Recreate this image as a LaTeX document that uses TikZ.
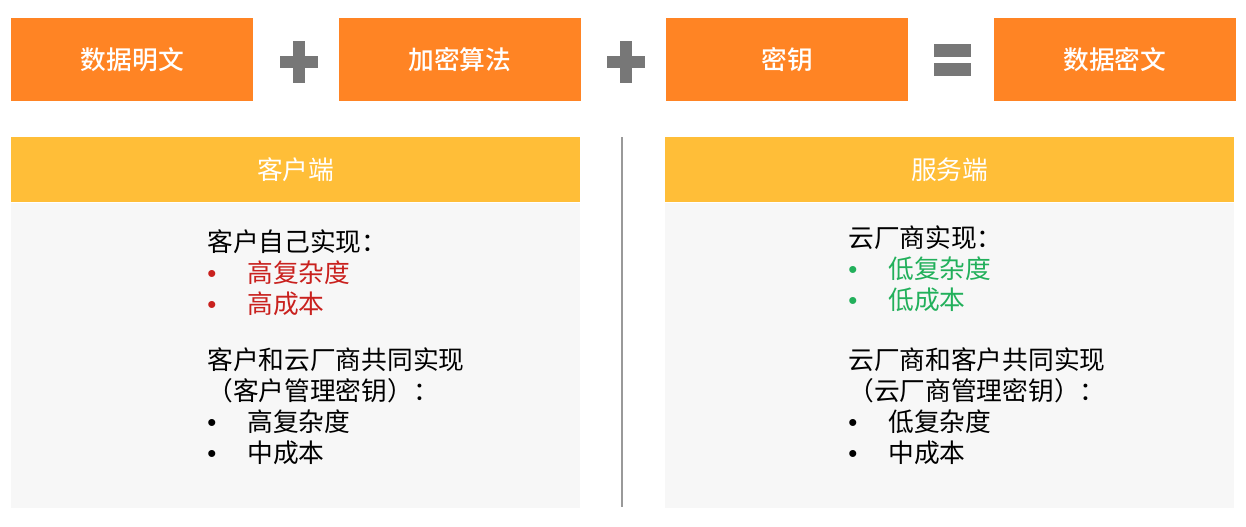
\documentclass[tikz,border=0pt]{standalone}
\usepackage{fontspec}
\usepackage{xcolor}
\usepackage{tikz}
\usetikzlibrary{positioning,calc}

\newfontfamily\cjk{Noto Sans CJK SC}
\newfontfamily\cjkmd{Noto Sans CJK SC}[UprightFont=* Medium]
\newfontfamily\lat{Liberation Sans}
\definecolor{boxorange}{HTML}{FF8424}
\definecolor{hdryellow}{HTML}{FFBE38}
\definecolor{panelgray}{HTML}{F7F7F7}
\definecolor{signgray}{HTML}{777777}
\definecolor{lowred}{HTML}{C9211E}
\definecolor{lowgreen}{HTML}{22B05B}
\newcommand{\bul}{\makebox[30pt][l]{\lat •}}

\begin{document}
\begin{tikzpicture}[x=0.75pt, y=-0.75pt, node distance=63.75pt,
  every node/.style={font=\cjk\fontsize{19.3}{23.25}\selectfont},
  box/.style={fill=boxorange, text=white, minimum width=181.5pt, minimum height=62.25pt, inner sep=0pt, font=\cjkmd\fontsize{19.3}{23.25}\selectfont},
  hdr/.style={fill=hdryellow, text=white, minimum width=426.75pt, minimum height=48.75pt, inner sep=0pt},
  panel/.style={fill=panelgray, minimum width=426.75pt, minimum height=228.75pt, inner sep=0pt},
  txt/.style={align=left, inner sep=0pt, anchor=north west},
  sign/.style={fill=signgray},
  divider/.style={draw=black!40, line width=2.2pt}]
\useasboundingbox (0,0) rectangle (1246,526);
% top row: plaintext + algorithm + key = ciphertext
\node[box, anchor=north west] (pt) at (11,18) {数据明文};
\node[box, right=of pt] (alg) {加密算法};
\node[box, right=of alg] (key) {密钥};
\node[box, right=of key] (ct) {数据密文};
\coordinate (p1) at ($(pt.east)!0.5!(alg.west)+(2.5,2.5)$);
\coordinate (p2) at ($(alg.east)!0.5!(key.west)+(2.5,2.5)$);
\coordinate (eq) at ($(key.east)!0.5!(ct.west)+(1.5,0)$);
\foreach \p in {p1,p2} {
  \fill[sign] ($(\p)+(-19,-6)$) rectangle ($(\p)+(19,6)$);
  \fill[sign] ($(\p)+(-6,-21)$) rectangle ($(\p)+(6,21)$);
}
\fill[sign] ($(eq)+(-18.5,-15.5)$) rectangle ($(eq)+(18.5,-2.5)$);
\fill[sign] ($(eq)+(-18.5,3.5)$) rectangle ($(eq)+(18.5,16.5)$);
% client / server panels
\node[hdr, anchor=north west] (hc) at (11,137) {客户端};
\node[panel, below=0pt of hc] (pc) {};
\node[hdr, anchor=north west] (hs) at (665,137) {服务端};
\node[panel, below=0pt of hs] (ps) {};
\coordinate (dtop) at (622,137);
\coordinate (dbot) at (622,507);
\draw[divider] (dtop) -- (dbot);
\node[txt] (ca) at (207,229) {客户自己实现：\\
  \textcolor{lowred}{\bul 高复杂度}\\
  \textcolor{lowred}{\bul 高成本}};
\node[txt] (cb) at (207,347) {客户和云厂商共同实现\\
  （客户管理密钥）：\\
  \bul 高复杂度\\
  \bul 中成本};
\node[txt] (sa) at (848,225) {云厂商实现：\\
  \textcolor{lowgreen}{\bul 低复杂度}\\
  \textcolor{lowgreen}{\bul 低成本}};
\node[txt] (sb) at (848,347) {云厂商和客户共同实现\\
  （云厂商管理密钥）：\\
  \bul 低复杂度\\
  \bul 中成本};
\end{tikzpicture}
\end{document}
